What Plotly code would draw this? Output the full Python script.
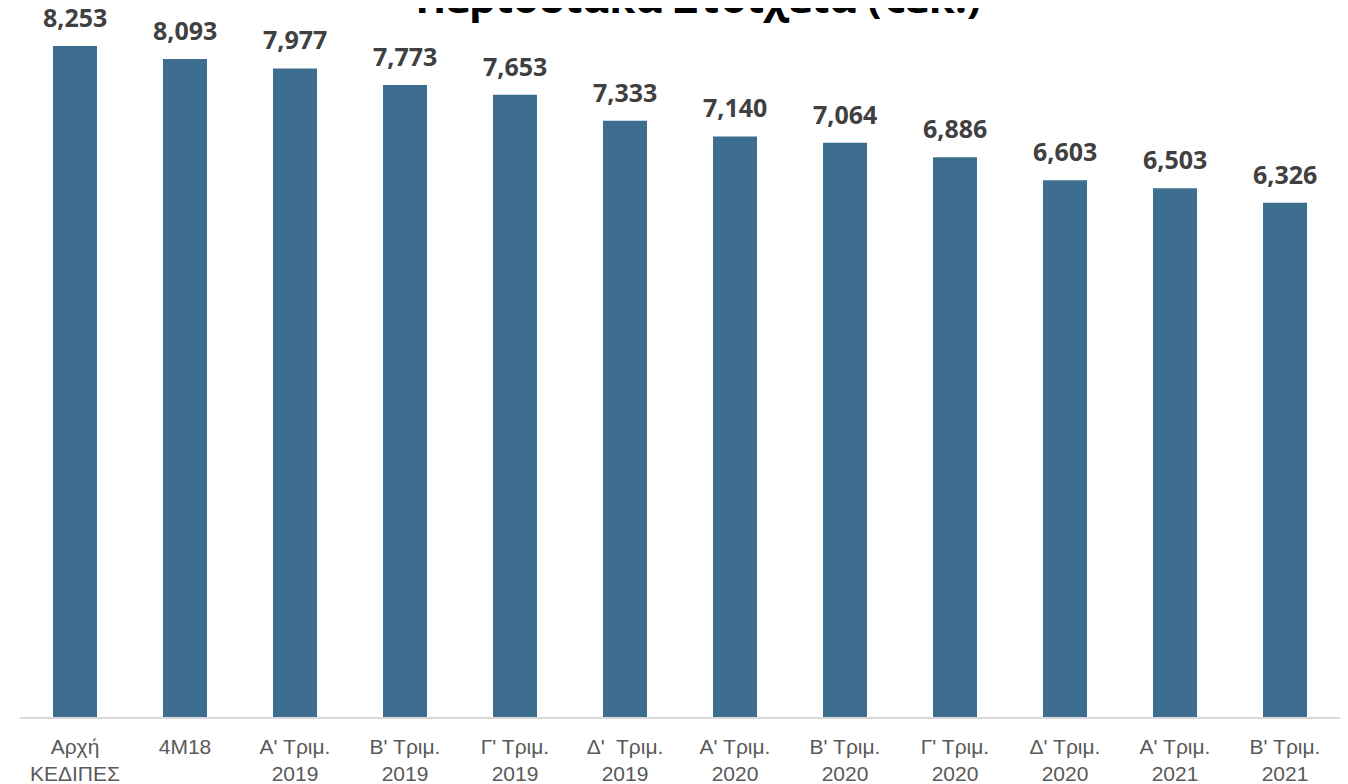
import plotly.graph_objects as go

categories = ["Αρχή<br>ΚΕΔΙΠΕΣ", "4Μ18<br> ", "Α' Τριμ.<br>2019", "Β' Τριμ.<br>2019",
              "Γ' Τριμ.<br>2019", "Δ'\u00a0 Τριμ.<br>2019", "Α' Τριμ.<br>2020", "Β' Τριμ.<br>2020",
              "Γ' Τριμ.<br>2020", "Δ' Τριμ.<br>2020", "Α' Τριμ.<br>2021", "Β' Τριμ.<br>2021"]
values = [8253, 8093, 7977, 7773, 7653, 7333, 7140, 7064, 6886, 6603, 6503, 6326]
labels = [f"{v:,}" for v in values]
title_text = "Περιοδιακά Στοιχεία (€εκ.)"

xs = list(range(len(categories)))

fig = go.Figure(go.Bar(
    x=xs, y=values, width=0.4,
    marker=dict(color="#3D6E8F", line=dict(width=0)),
    hoverinfo="x+y",
))

for xi, v, lab in zip(xs, values, labels):
    fig.add_annotation(x=xi, y=v, xref="x", yref="y", text="<b>" + lab + "</b>",
                       showarrow=False, yanchor="bottom", yshift=10,
                       font=dict(family="Open Sans", size=25, color="#404040"))

fig.update_layout(
    width=1348, height=784,
    margin=dict(l=12, r=16, t=32, b=75),
    paper_bgcolor="white", plot_bgcolor="white",
    showlegend=False,
    title=dict(text="<b>" + title_text + "</b>", x=0.512, xanchor="center",
               y=0.994, yanchor="bottom", yref="container",
               font=dict(family="Open Sans", size=42, color="black")),
    xaxis=dict(tickmode="array", tickvals=xs, ticktext=categories,
               range=[-0.5, len(categories) - 0.5], showgrid=False, zeroline=False,
               showline=True, linecolor="#D9D9D9", linewidth=1.5, ticks="",
               ticklabelstandoff=10, automargin=False,
               tickfont=dict(family="Liberation Sans", size=21, color="#595959")),
    yaxis=dict(range=[0, 8253 * 677 / 671], visible=False, showgrid=False, zeroline=False,
               automargin=False),
)

fig.write_html("out.html")
